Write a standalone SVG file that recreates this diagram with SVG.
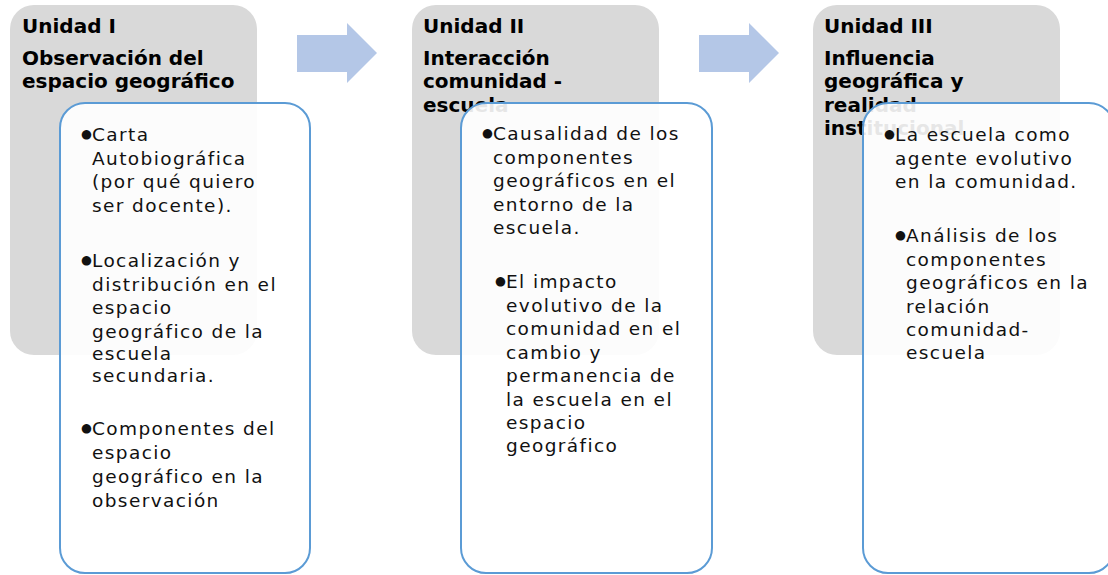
<svg xmlns="http://www.w3.org/2000/svg" width="1108" height="575" viewBox="0 0 1108 575">
<style>
.grey{fill:#D9D9D9;}
.card{fill:#FFFFFF;fill-opacity:0.9;stroke:#5B9BD5;stroke-width:2;}
.arrow{fill:#B4C7E7;}
.title{font-family:"DejaVu Sans",sans-serif;font-weight:bold;font-size:20px;fill:#000;}
.body{font-family:"DejaVu Sans",sans-serif;font-size:18.5px;letter-spacing:1.4px;fill:#111;}
.bul{font-family:"DejaVu Sans",sans-serif;font-size:12.5px;fill:#111;}
</style>
<rect width="1108" height="575" fill="#FFFFFF"/>
<g id="connectors">
<polygon class="arrow" points="297,35 347,35 347,23 377,53 347,83 347,72 297,72"/>
<polygon class="arrow" points="699,35 749,35 749,23 779,53 749,83 749,72 699,72"/>
</g>
<g id="unidad1">
<rect class="grey" x="10" y="5" width="247" height="350" rx="24"/>
<text class="title" x="22" y="33">Unidad I</text>
<text class="title" x="22" y="65">Observación del</text>
<text class="title" x="22" y="88">espacio geográfico</text>
<rect class="card" x="60" y="103" width="250" height="470" rx="25"/>
<text class="bul" x="81" y="138">●</text>
<text class="body"><tspan x="92" y="141">Carta</tspan><tspan x="92" y="164.5">Autobiográfica</tspan><tspan x="92" y="188">(por qué quiero</tspan><tspan x="92" y="211.5">ser docente).</tspan></text>
<text class="bul" x="81" y="264">●</text>
<text class="body"><tspan x="92" y="267">Localización y</tspan><tspan x="92" y="290.5">distribución en el</tspan><tspan x="92" y="314">espacio</tspan><tspan x="92" y="337.5">geográfico de la</tspan><tspan x="92" y="360">escuela</tspan><tspan x="92" y="382">secundaria.</tspan></text>
<text class="bul" x="81" y="432">●</text>
<text class="body"><tspan x="92" y="435">Componentes del</tspan><tspan x="92" y="459">espacio</tspan><tspan x="92" y="483">geográfico en la</tspan><tspan x="92" y="507">observación</tspan></text>
</g>
<g id="unidad2">
<rect class="grey" x="412" y="5" width="247" height="350" rx="24"/>
<text class="title" x="423" y="33">Unidad II</text>
<text class="title" x="423" y="65">Interacción</text>
<text class="title" x="423" y="88">comunidad -</text>
<text class="title" x="423" y="112">escuela</text>
<rect class="card" x="461" y="103" width="251" height="470" rx="25"/>
<text class="bul" x="482" y="137">●</text>
<text class="body"><tspan x="493" y="140">Causalidad de los</tspan><tspan x="493" y="163.5">componentes</tspan><tspan x="493" y="187">geográficos en el</tspan><tspan x="493" y="211">entorno de la</tspan><tspan x="493" y="234">escuela.</tspan></text>
<text class="bul" x="495" y="285">●</text>
<text class="body"><tspan x="506" y="288">El impacto</tspan><tspan x="506" y="311.5">evolutivo de la</tspan><tspan x="506" y="335">comunidad en el</tspan><tspan x="506" y="358.5">cambio y</tspan><tspan x="506" y="382">permanencia de</tspan><tspan x="506" y="405.5">la escuela en el</tspan><tspan x="506" y="429">espacio</tspan><tspan x="506" y="452">geográfico</tspan></text>
</g>
<g id="unidad3">
<rect class="grey" x="813" y="5" width="247" height="350" rx="24"/>
<text class="title" x="824" y="33">Unidad III</text>
<text class="title" x="824" y="65">Influencia</text>
<text class="title" x="824" y="88">geográfica y</text>
<text class="title" x="824" y="112">realidad</text>
<text class="title" x="824" y="135">institucional</text>
<rect class="card" x="863" y="103" width="251" height="470" rx="25"/>
<text class="bul" x="884" y="138">●</text>
<text class="body"><tspan x="895" y="141">La escuela como</tspan><tspan x="895" y="164.5">agente evolutivo</tspan><tspan x="895" y="188">en la comunidad.</tspan></text>
<text class="bul" x="895" y="239">●</text>
<text class="body"><tspan x="906" y="242">Análisis de los</tspan><tspan x="906" y="265.5">componentes</tspan><tspan x="906" y="289">geográficos en la</tspan><tspan x="906" y="312.5">relación</tspan><tspan x="906" y="336">comunidad-</tspan><tspan x="906" y="359">escuela</tspan></text>
</g>
</svg>
